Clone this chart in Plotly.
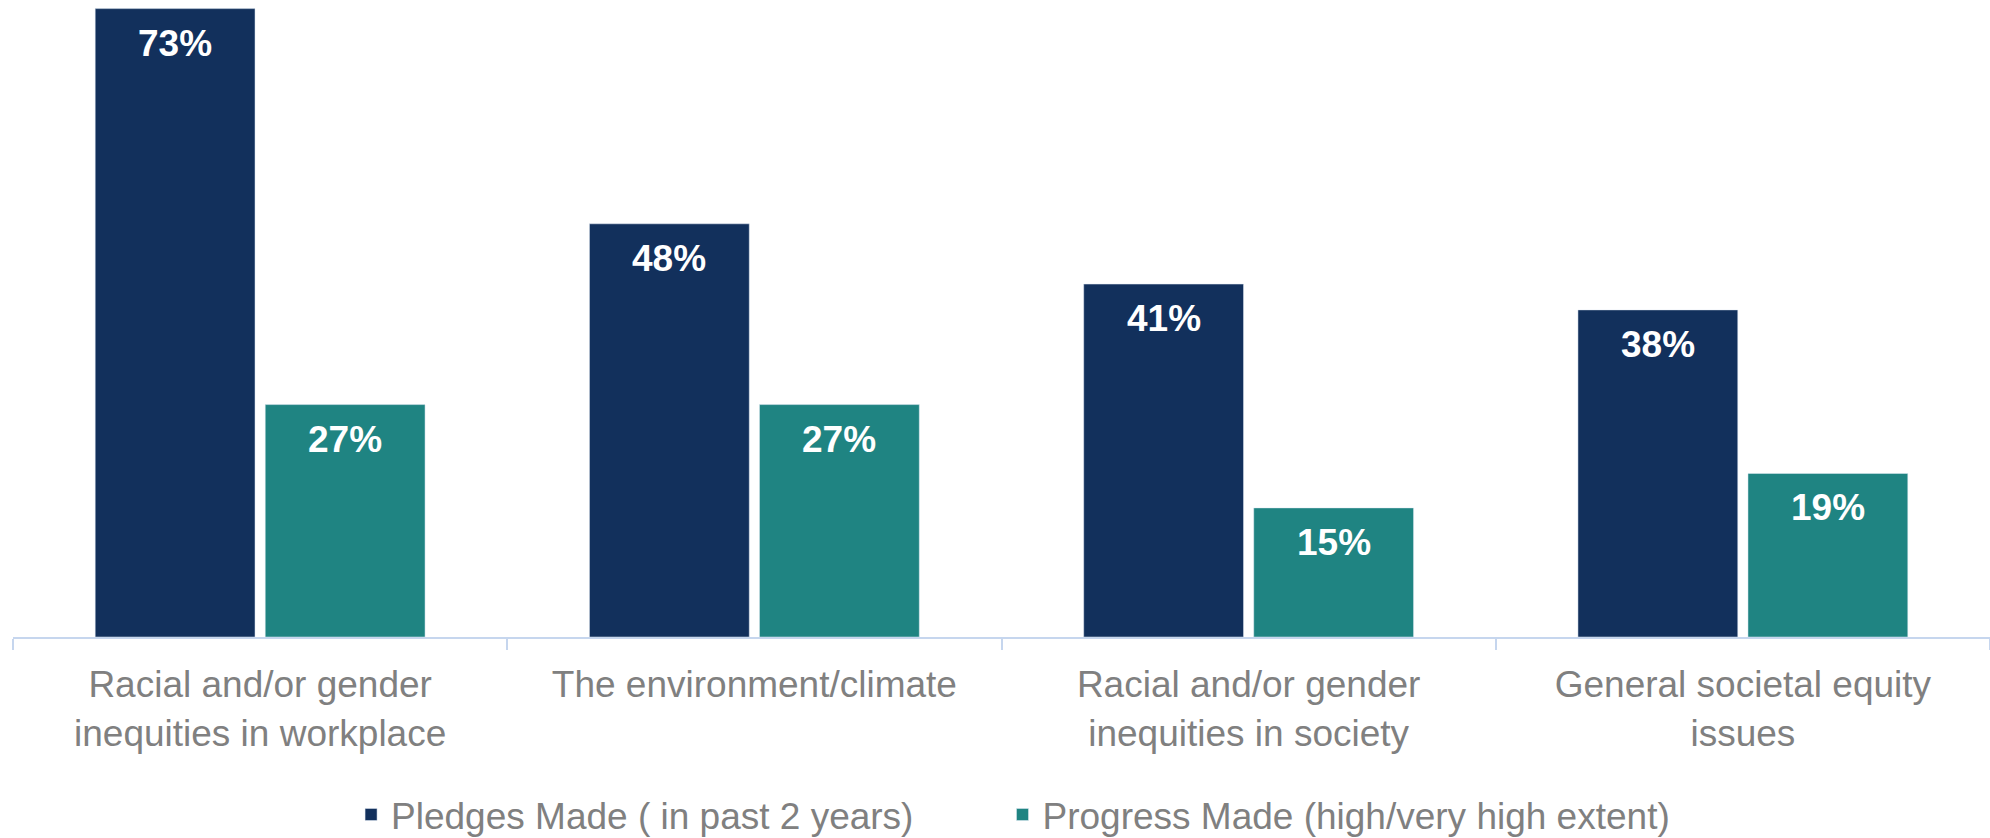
import plotly.graph_objects as go

categories = [
    "Racial and/or gender<br>inequities in workplace",
    "The environment/climate",
    "Racial and/or gender<br>inequities in society",
    "General societal equity<br>issues",
]
pledges = [73, 48, 41, 38]
progress = [27, 27, 15, 19]
series_names = ["Pledges Made ( in past 2 years)", "Progress Made (high/very high extent)"]

NAVY = "#12305C"
TEAL = "#1F8482"
GRAY = "#808080"
AXIS = "#C6D6EE"
FONT = "Liberation Sans, Arial, sans-serif"

fig = go.Figure()
fig.add_trace(go.Bar(x=categories, y=pledges, name=series_names[0], marker_color=NAVY,
                     legend="legend"))
fig.add_trace(go.Bar(x=categories, y=progress, name=series_names[1], marker_color=TEAL,
                     legend="legend2"))

annotations = []
for vals, shift in ((pledges, -85), (progress, 85)):
    for c, v in zip(categories, vals):
        annotations.append(dict(
            x=c, y=v, xref="x", yref="y", text=f"<b>{v}%</b>", showarrow=False,
            yanchor="top", yshift=-12, xshift=shift,
            font=dict(family=FONT, size=37, color="white"),
        ))

legend_common = dict(orientation="h", xanchor="left", y=-0.328, yanchor="bottom",
                     font=dict(family=FONT, size=37, color=GRAY), itemwidth=30,
                     bgcolor="rgba(0,0,0,0)")

fig.update_layout(
    width=1990, height=838,
    margin=dict(l=13, r=0, t=0, b=201, autoexpand=False),
    paper_bgcolor="white", plot_bgcolor="white",
    barmode="group", bargap=0.312, bargroupgap=0.06,
    font=dict(family=FONT, size=37, color=GRAY),
    showlegend=True,
    legend=dict(x=0.171, **legend_common),
    legend2=dict(x=0.5005, **legend_common),
    annotations=annotations,
    xaxis=dict(showline=True, linecolor=AXIS, linewidth=2, ticks="outside",
               tickson="boundaries", ticklen=11, tickcolor=AXIS, tickwidth=1.5,
               ticklabelstandoff=14, automargin=False,
               tickfont=dict(family=FONT, size=37, color=GRAY), showgrid=False),
    yaxis=dict(range=[0, 74], visible=False, showgrid=False, zeroline=False,
               automargin=False),
)

fig.write_html(
    "out.html",
    config={"displayModeBar": False},
    post_script="document.body.style.margin='0';document.body.style.overflow='hidden';",
)
